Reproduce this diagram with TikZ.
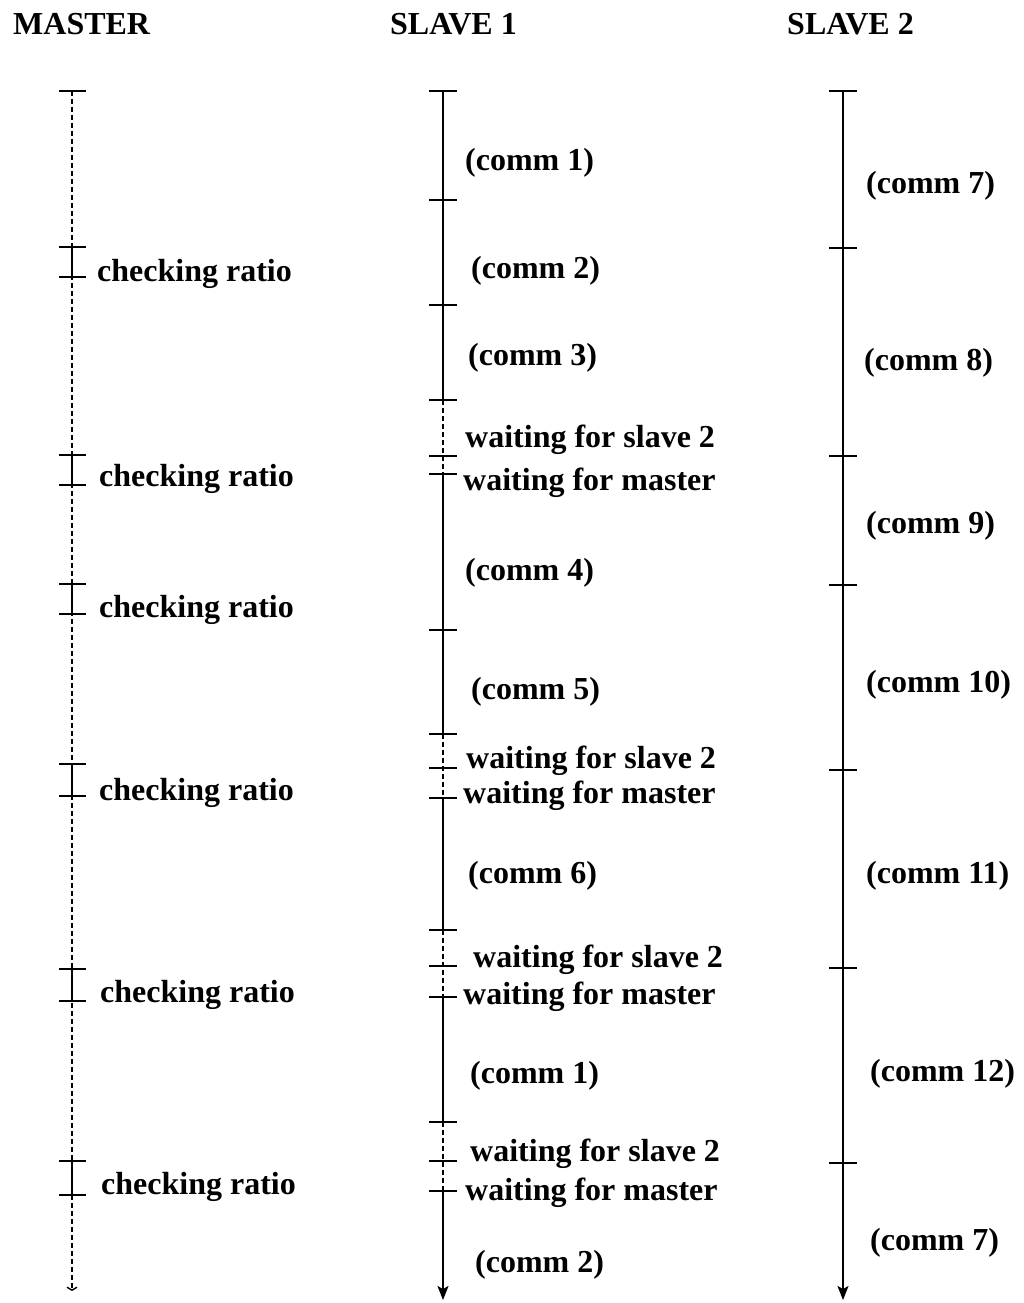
\documentclass[tikz,border=0pt]{standalone}
\usepackage{fontspec}
\setmainfont{Liberation Serif}
\usetikzlibrary{arrows.meta}

\begin{document}
\begin{tikzpicture}[x=1pt,y=-1pt,
  every node/.style={inner sep=0pt},
  lbl/.style={anchor=west,yshift=-3pt,font=\bfseries\fontsize{32}{38}\selectfont},
  head/.style={anchor=base west,font=\bfseries\fontsize{32}{38}\selectfont},
  run/.style={line width=1.6pt},
  idle/.style={line width=1.4pt,dash pattern=on 5pt off 3pt},
  tickmark/.style={line width=1.3pt},
  endarrow/.style={-{Stealth[length=14pt,width=11pt,inset=3pt]}},
  barb/.style={-{Straight Barb[length=3pt,width=10pt]}}
]
\useasboundingbox (0,0) rectangle (1024,1303);

% column headings
\node[head] (hm)  at (13,35)  {MASTER};
\node[head] (hs1) at (390,35) {SLAVE 1};
\node[head] (hs2) at (787,35) {SLAVE 2};

% ---------- master time line ----------
\def\mx{72}
\coordinate (m0) at (\mx,91);
\coordinate (mend) at (\mx,1291);
\draw[idle,barb] (m0) -- (mend);
\foreach \a/\b [count=\i] in {247/277,455/485,584/614,764/796,969/1001,1161/1195}{
  \coordinate (ma\i) at (\mx,\a);
  \coordinate (mb\i) at (\mx,\b);
  \draw[run] (ma\i) -- (mb\i);
}
\foreach \y in {91,247,277,455,485,584,614,764,796,969,1001,1161,1195}
  \draw[tickmark] (\mx-13,\y) -- (\mx+14,\y);

\node[lbl] (cr1) at (97,271)  {checking ratio};
\node[lbl] (cr2) at (99,476)  {checking ratio};
\node[lbl] (cr3) at (99,607)  {checking ratio};
\node[lbl] (cr4) at (99,790)  {checking ratio};
\node[lbl] (cr5) at (100,992) {checking ratio};
\node[lbl] (cr6) at (101,1184){checking ratio};

% ---------- slave 1 time line ----------
\def\sx{443}
\foreach \n/\y in {1/91,2/200,3/305,4/400,5/456,6/474,7/630,8/734,9/768,10/798,
                   11/930,12/966,13/997,14/1122,15/1161,16/1191}
  \coordinate (s\n) at (\sx,\y);
\coordinate (send) at (\sx,1300);
\draw[run] (s1) -- (s2) -- (s3) -- (s4);
\draw[idle] (s4) -- (s5) -- (s6);
\draw[run] (s6) -- (s7) -- (s8);
\draw[idle] (s8) -- (s9) -- (s10);
\draw[run] (s10) -- (s11);
\draw[idle] (s11) -- (s12) -- (s13);
\draw[run] (s13) -- (s14);
\draw[idle] (s14) -- (s15) -- (s16);
\draw[run,endarrow] (s16) -- (send);
\foreach \n in {1,...,16}
  \draw[tickmark] ([xshift=-14pt]s\n) -- ([xshift=14pt]s\n);

\node[lbl] (c1)  at (465,160)  {(comm 1)};
\node[lbl] (c2)  at (471,268)  {(comm 2)};
\node[lbl] (c3)  at (468,355)  {(comm 3)};
\node[lbl] (w1)  at (465,437)  {waiting for slave 2};
\node[lbl] (w2)  at (463,480)  {waiting for master};
\node[lbl] (c4)  at (465,570)  {(comm 4)};
\node[lbl] (c5)  at (471,689)  {(comm 5)};
\node[lbl] (w3)  at (466,758)  {waiting for slave 2};
\node[lbl] (w4)  at (463,793)  {waiting for master};
\node[lbl] (c6)  at (468,873)  {(comm 6)};
\node[lbl] (w5)  at (473,957)  {waiting for slave 2};
\node[lbl] (w6)  at (463,994)  {waiting for master};
\node[lbl] (c1b) at (470,1073) {(comm 1)};
\node[lbl] (w7)  at (470,1151) {waiting for slave 2};
\node[lbl] (w8)  at (465,1190) {waiting for master};
\node[lbl] (c2b) at (475,1262) {(comm 2)};

% ---------- slave 2 time line ----------
\def\tx{843}
\foreach \n/\y in {1/91,2/248,3/456,4/585,5/770,6/968,7/1163}
  \coordinate (t\n) at (\tx,\y);
\coordinate (tend) at (\tx,1300);
\draw[run] (t1) -- (t2) -- (t3) -- (t4) -- (t5) -- (t6) -- (t7);
\draw[run,endarrow] (t7) -- (tend);
\foreach \n in {1,...,7}
  \draw[tickmark] ([xshift=-14pt]t\n) -- ([xshift=14pt]t\n);

\node[lbl] (c7)  at (866,183)  {(comm 7)};
\node[lbl] (c8)  at (864,360)  {(comm 8)};
\node[lbl] (c9)  at (866,523)  {(comm 9)};
\node[lbl] (c10) at (866,682)  {(comm 10)};
\node[lbl] (c11) at (866,873)  {(comm 11)};
\node[lbl] (c12) at (870,1071) {(comm 12)};
\node[lbl] (c7b) at (870,1240) {(comm 7)};
\end{tikzpicture}
\end{document}
